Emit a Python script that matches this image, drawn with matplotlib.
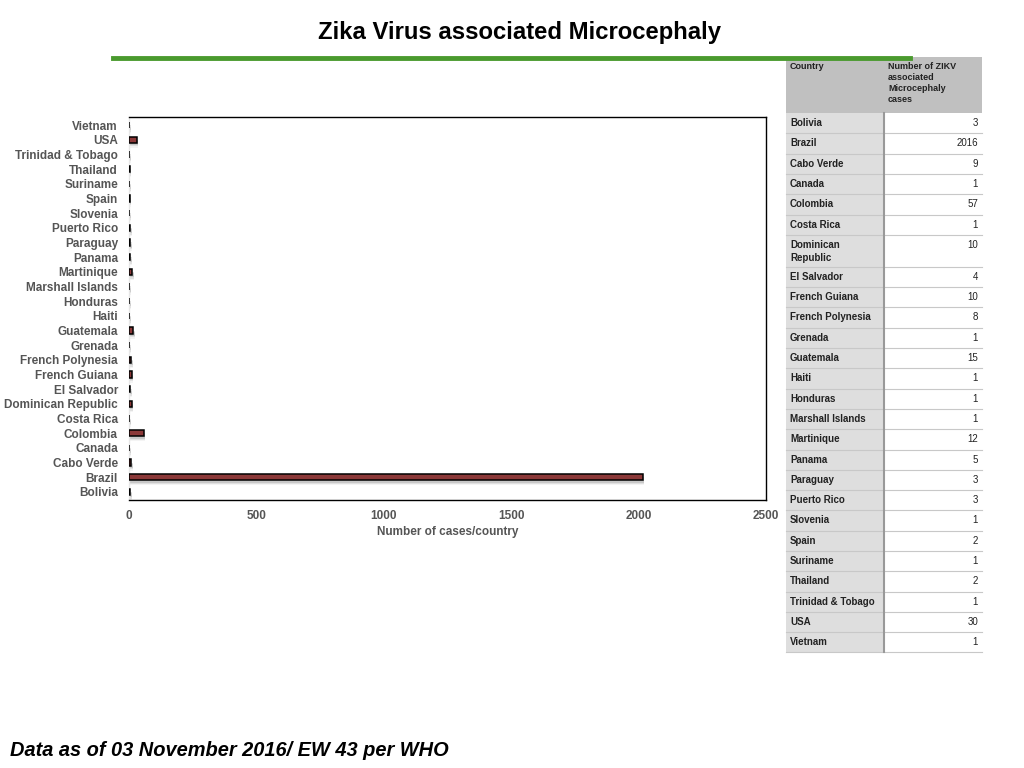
import numpy as np
import matplotlib.pyplot as plt
from matplotlib.patches import Rectangle

plt.rcParams['font.family'] = ['Liberation Sans', 'DejaVu Sans']

# data, in the order of the table (alphabetical)
countries = ["Bolivia", "Brazil", "Cabo Verde", "Canada", "Colombia", "Costa Rica",
             "Dominican Republic", "El Salvador", "French Guiana", "French Polynesia",
             "Grenada", "Guatemala", "Haiti", "Honduras", "Marshall Islands",
             "Martinique", "Panama", "Paraguay", "Puerto Rico", "Slovenia", "Spain",
             "Suriname", "Thailand", "Trinidad & Tobago", "USA", "Vietnam"]
cases = [3, 2016, 9, 1, 57, 1, 10, 4, 10, 8, 1, 15, 1, 1, 1, 12, 5, 3, 3, 1, 2,
         1, 2, 1, 30, 1]
table_names = ["Bolivia", "Brazil", "Cabo Verde", "Canada", "Colombia", "Costa Rica",
               "Dominican\nRepublic", "El Salvador", "French Guiana", "French Polynesia",
               "Grenada", "Guatemala", "Haiti", "Honduras", "Marshall Islands",
               "Martinique", "Panama", "Paraguay", "Puerto Rico", "Slovenia", "Spain",
               "Suriname", "Thailand", "Trinidad & Tobago", "USA", "Vietnam"]
x_ticks = [0, 500, 1000, 1500, 2000, 2500]

W, H = 1024, 768
fig = plt.figure(figsize=(W / 100, H / 100), dpi=100)

# title and green rule
fig.text(520 / W, 1 - 32 / H, "Zika Virus associated Microcephaly", ha="center", va="center",
         fontsize=17.2, fontweight="bold", color="black")
fig.add_artist(plt.Line2D([113 / W, 910 / W], [1 - 58 / H, 1 - 58 / H], color="#4a9a2e",
                          linewidth=3.5))

# bar chart
ax = fig.add_axes([129 / W, 1 - 500 / H, (766 - 129) / W, (500 - 117) / H])
y = np.arange(len(countries))
# soft drop shadow under each bar
for k, a in [(0.18, 0.22), (0.28, 0.16), (0.38, 0.08)]:
    ax.barh(y - k, np.array(cases) + 4, height=0.36, left=3, color="#777777", alpha=a,
            linewidth=0, zorder=2)
ax.barh(y, cases, height=0.42, color="#8b3838", edgecolor="black", linewidth=1.1, zorder=3)
ax.set_ylim(-0.55, len(countries) - 0.45)
ax.set_xlim(0, 2500)
ax.set_yticks(y)
ax.set_yticklabels(countries)
ax.set_xticks(x_ticks)
ax.tick_params(length=0, labelsize=8.5, labelcolor="#555555", pad=8)
ax.tick_params(axis="x", pad=7)
for lab in ax.get_xticklabels() + ax.get_yticklabels():
    lab.set_fontweight("bold")
ax.set_xlabel("Number of cases/country", fontsize=8.5, fontweight="bold", color="#555555",
              labelpad=3)
for s in ax.spines.values():
    s.set_linewidth(1.0)
    s.set_color("black")
ax.spines["left"].set_color("#e6e6e6")

# table on the right
x0, x1, x2 = 786, 884, 982
row_h = [20.3] * len(table_names)
row_h[6] = 32
top = 57
head_h = 56


def px_rect(x, yt, w, h, fc):
    fig.add_artist(Rectangle((x / W, 1 - (yt + h) / H), w / W, h / H, transform=fig.transFigure,
                             facecolor=fc, edgecolor="none"))


def px_hline(xa, xb, yy, color="#c8c8c8", lw=0.8):
    fig.add_artist(plt.Line2D([xa / W, xb / W], [1 - yy / H, 1 - yy / H], color=color,
                              linewidth=lw))


px_rect(x0, top, x2 - x0, head_h, "#c0c0c0")
fig.text((x0 + 4) / W, 1 - (top + 5) / H, "Country", ha="left", va="top", fontsize=6.5,
         fontweight="bold", color="#222222")
fig.text((x1 + 4) / W, 1 - (top + 5) / H, "Number of ZIKV\nassociated\nMicrocephaly\ncases",
         ha="left", va="top", fontsize=6.5, fontweight="bold", color="#222222", linespacing=1.3)

yt = top + head_h
for name, val, h in zip(table_names, cases, row_h):
    px_rect(x0, yt, x1 - x0, h, "#dedede")
    px_rect(x1, yt, x2 - x1, h, "white")
    fig.text((x0 + 4) / W, 1 - (yt + 5) / H, name, ha="left", va="top", fontsize=7,
             fontweight="bold", color="#222222", linespacing=1.35)
    fig.text((x2 - 4) / W, 1 - (yt + 5) / H, str(val), ha="right", va="top", fontsize=7,
             color="#222222")
    yt += h
    px_hline(x0, x2, yt)

fig.add_artist(plt.Line2D([x1 / W, x1 / W], [1 - (top + head_h) / H, 1 - yt / H],
                          color="#999999", linewidth=1.5))

# footnote
fig.text(10 / W, 1 - 750 / H, "Data as of 03 November 2016/ EW 43 per WHO", ha="left",
         va="center", fontsize=14.4, fontweight="bold", fontstyle="italic", color="black")

fig.savefig("out.png", dpi=100)
